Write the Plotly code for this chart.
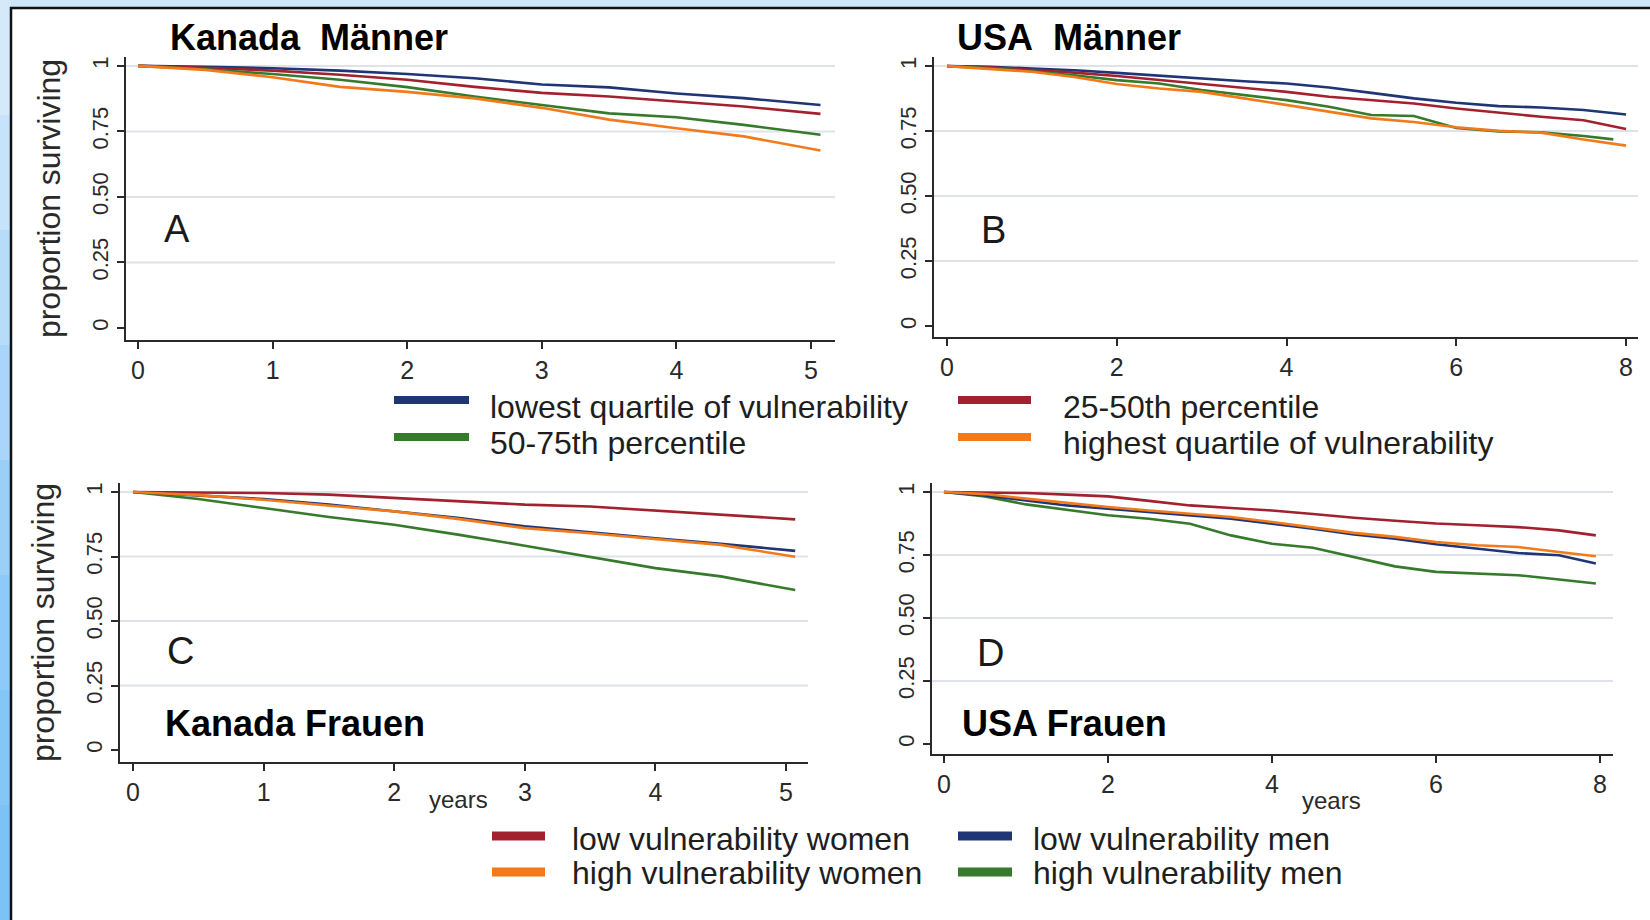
import plotly.graph_objects as go

W, H = 1650, 920

# ---------------- data ----------------
# Panel A: Kanada Maenner (quartiles of vulnerability)
years_A = [0, 0.5, 1, 1.5, 2, 2.5, 3, 3.5, 4, 4.5, 5.07]
A_q1 = [1.0, 0.997, 0.991, 0.982, 0.969, 0.953, 0.929, 0.918, 0.895, 0.877, 0.851]
A_q2 = [1.0, 0.993, 0.982, 0.966, 0.947, 0.920, 0.897, 0.883, 0.864, 0.845, 0.817]
A_q3 = [1.0, 0.987, 0.969, 0.947, 0.919, 0.883, 0.851, 0.819, 0.804, 0.775, 0.737]
A_q4 = [1.0, 0.985, 0.957, 0.920, 0.901, 0.876, 0.840, 0.795, 0.762, 0.731, 0.677]

# Panel B: USA Maenner
years_B = [0, 0.5, 1, 1.5, 2, 2.5, 3, 3.5, 4, 4.5, 5, 5.5, 6, 6.5, 7, 7.5, 8.0]
years_B_q3 = [0, 0.5, 1, 1.5, 2, 2.5, 3, 3.5, 4, 4.5, 5, 5.5, 6, 6.5, 7, 7.5, 7.85]
B_q1 = [1.0, 0.997, 0.991, 0.984, 0.974, 0.963, 0.953, 0.942, 0.933, 0.918, 0.897, 0.876, 0.859, 0.846, 0.841, 0.831, 0.814]
B_q2 = [1.0, 0.995, 0.985, 0.975, 0.962, 0.947, 0.931, 0.918, 0.901, 0.882, 0.869, 0.856, 0.837, 0.821, 0.805, 0.792, 0.758]
B_q3 = [1.0, 0.992, 0.980, 0.965, 0.946, 0.933, 0.908, 0.888, 0.869, 0.844, 0.812, 0.808, 0.762, 0.749, 0.745, 0.731, 0.718]
B_q4 = [1.0, 0.990, 0.978, 0.958, 0.931, 0.914, 0.901, 0.876, 0.850, 0.824, 0.799, 0.785, 0.765, 0.751, 0.744, 0.718, 0.694]

# Panel C: Kanada Frauen (women vs men)
years_C = [0, 0.5, 1, 1.5, 2, 2.5, 3, 3.5, 4, 4.5, 5.07]
C_low_w = [1.0, 0.999, 0.996, 0.990, 0.977, 0.964, 0.951, 0.944, 0.929, 0.912, 0.894]
C_high_w = [1.0, 0.988, 0.970, 0.948, 0.925, 0.895, 0.860, 0.840, 0.818, 0.795, 0.749]
C_low_m = [1.0, 0.986, 0.973, 0.951, 0.925, 0.899, 0.867, 0.843, 0.821, 0.799, 0.772]
C_high_m = [1.0, 0.973, 0.938, 0.903, 0.873, 0.834, 0.792, 0.748, 0.705, 0.673, 0.620]

# Panel D: USA Frauen
years_D = [0, 0.5, 1, 1.5, 2, 2.5, 3, 3.5, 4, 4.5, 5, 5.5, 6, 6.5, 7, 7.5, 7.95]
D_low_w = [1.0, 0.999, 0.996, 0.990, 0.983, 0.965, 0.947, 0.937, 0.927, 0.913, 0.898, 0.886, 0.875, 0.868, 0.861, 0.848, 0.828]
D_high_w = [1.0, 0.992, 0.974, 0.956, 0.941, 0.927, 0.914, 0.901, 0.881, 0.861, 0.838, 0.822, 0.802, 0.789, 0.782, 0.762, 0.745]
D_low_m = [1.0, 0.987, 0.967, 0.947, 0.934, 0.921, 0.908, 0.894, 0.874, 0.855, 0.832, 0.815, 0.793, 0.775, 0.758, 0.749, 0.716]
D_high_m = [1.0, 0.983, 0.951, 0.930, 0.908, 0.894, 0.874, 0.828, 0.795, 0.779, 0.742, 0.705, 0.683, 0.676, 0.670, 0.653, 0.637]

quartile_names = ["lowest quartile of vulnerability", "25-50th percentile",
                  "50-75th percentile", "highest quartile of vulnerability"]
group_names = ["low vulnerability women", "high vulnerability women",
               "low vulnerability men", "high vulnerability men"]
panel_titles = ["Kanada\u00a0\u00a0Männer", "USA\u00a0\u00a0Männer", "Kanada Frauen", "USA Frauen"]
panel_letters = ["A", "B", "C", "D"]
y_tickvals = [0, 0.25, 0.5, 0.75, 1]
y_ticktext = ["0", "0.25", "0.50", "0.75", "1"]
grid_vals = [0.25, 0.5, 0.75, 1]
x_ticks_5 = [0, 1, 2, 3, 4, 5]
x_ticks_8 = [0, 2, 4, 6, 8]
y_title = "proportion surviving"
x_title = "years"

# ---------------- styles ----------------
NAVY = "#1f3576"
MAROON = "#a1222e"
GREEN = "#367a2b"
ORANGE = "#f27a1a"
AXC = "#2a2a2a"
GRIDC = "#dfe2ea"
FONT = "Liberation Sans, Arial, sans-serif"


def fx(px):
    return px / W


def fy(py):
    return 1 - py / H


fig = go.Figure()

# panel geometry in pixels: (x left, x right), (y top, y bottom), ranges
panels = [
    dict(n="", xd=(126, 835), yd=(57, 340), xr=(-0.089, 5.178), yr=(-0.046, 1.034), xt=x_ticks_5),
    dict(n="2", xd=(934, 1638), yd=(57, 337), xr=(-0.153, 8.141), yr=(-0.042, 1.035), xt=x_ticks_8),
    dict(n="3", xd=(120, 808), yd=(483, 762), xr=(-0.0995, 5.168), yr=(-0.0465, 1.035), xt=x_ticks_5),
    dict(n="4", xd=(932, 1613), yd=(483, 754), xr=(-0.146, 8.159), yr=(-0.040, 1.036), xt=x_ticks_8),
]

series = [
    [(years_A, A_q1, NAVY), (years_A, A_q2, MAROON), (years_A, A_q3, GREEN), (years_A, A_q4, ORANGE)],
    [(years_B, B_q1, NAVY), (years_B, B_q2, MAROON), (years_B_q3, B_q3, GREEN), (years_B, B_q4, ORANGE)],
    [(years_C, C_high_m, GREEN), (years_C, C_low_w, MAROON), (years_C, C_low_m, NAVY), (years_C, C_high_w, ORANGE)],
    [(years_D, D_high_m, GREEN), (years_D, D_low_w, MAROON), (years_D, D_low_m, NAVY), (years_D, D_high_w, ORANGE)],
]

layout_axes = {}
shapes = []
annotations = []

# background: white sheet with black edge on light-blue page
strip_cols = ["#d4eafb", "#c6e3fb", "#b6dcfa", "#a8d5f9", "#9acff8", "#8ecaf7", "#84c6f6", "#7cc2f5"]
for i, c in enumerate(strip_cols):
    shapes.append(dict(type="rect", xref="paper", yref="paper", x0=0, x1=fx(11),
                       y0=1 - (i + 1) / len(strip_cols), y1=1 - i / len(strip_cols) if i else 1.0,
                       fillcolor=c, line=dict(width=0), layer="below"))
shapes.append(dict(type="rect", xref="paper", yref="paper", x0=fx(11), x1=1.05, y0=-0.05, y1=fy(8),
                   fillcolor="white", line=dict(color="#111111", width=2.5), layer="below"))

for i, p in enumerate(panels):
    n = p["n"]
    xa, ya = "xaxis" + n, "yaxis" + n
    layout_axes[xa] = dict(
        domain=[fx(p["xd"][0]), fx(p["xd"][1])], range=list(p["xr"]), anchor="y" + n,
        tickvals=p["xt"], ticks="outside", ticklen=7, tickwidth=2, tickcolor=AXC,
        showline=True, linecolor=AXC, linewidth=2, showgrid=False, zeroline=False,
        tickfont=dict(family=FONT, size=25, color="#2a2a2a"),
    )
    layout_axes[ya] = dict(
        domain=[fy(p["yd"][1]), fy(p["yd"][0])], range=list(p["yr"]), anchor="x" + n,
        tickvals=y_tickvals, ticktext=y_ticktext, tickangle=-90,
        ticks="outside", ticklen=7, tickwidth=2, tickcolor=AXC,
        showline=True, linecolor=AXC, linewidth=2, showgrid=False, zeroline=False,
        tickfont=dict(family=FONT, size=22, color="#2a2a2a"),
    )
    if i in (0, 2):
        layout_axes[ya]["title"] = dict(text=y_title, standoff=18,
                                        font=dict(family=FONT, size=32, color="#2a2a2a"))
    for g in grid_vals:
        shapes.append(dict(type="line", xref="x" + n + " domain", yref="y" + n,
                           x0=0, x1=1, y0=g, y1=g, line=dict(color=GRIDC, width=2), layer="below"))
    for (xs, ys, col) in series[i]:
        fig.add_trace(go.Scatter(x=xs, y=ys, mode="lines", xaxis="x" + n, yaxis="y" + n,
                                 line=dict(color=col, width=2.6), showlegend=False,
                                 hoverinfo="x+y"))

# panel titles and letters
title_pos = [(168, 37), (955, 37), (163, 723), (960, 723)]
letter_pos = [(177, 229), (993, 230), (180, 651), (990, 653)]
for t, (px, py) in zip(panel_titles, title_pos):
    annotations.append(dict(text="<b>" + t + "</b>", xref="paper", yref="paper", x=fx(px), y=fy(py),
                            xanchor="left", yanchor="middle", showarrow=False,
                            font=dict(family=FONT, size=36, color="black")))
for t, (px, py) in zip(panel_letters, letter_pos):
    annotations.append(dict(text=t, xref="paper", yref="paper", x=fx(px), y=fy(py),
                            xanchor="center", yanchor="middle", showarrow=False,
                            font=dict(family=FONT, size=38, color="#1a1a1a")))
# "years" labels
for (px, py) in [(458, 799), (1331, 800)]:
    annotations.append(dict(text=x_title, xref="paper", yref="paper", x=fx(px), y=fy(py),
                            xanchor="center", yanchor="middle", showarrow=False,
                            font=dict(family=FONT, size=24, color="#2a2a2a")))

# legends (swatch + label)
legend1 = [(quartile_names[0], NAVY, 394, 469, 400, 488, 407),
           (quartile_names[1], MAROON, 958, 1031, 400, 1061, 407),
           (quartile_names[2], GREEN, 394, 469, 437, 488, 443),
           (quartile_names[3], ORANGE, 958, 1031, 437, 1061, 443)]
legend2 = [(group_names[0], MAROON, 492, 545, 836, 570, 839),
           (group_names[2], NAVY, 958, 1012, 836, 1031, 839),
           (group_names[1], ORANGE, 492, 545, 872, 570, 873),
           (group_names[3], GREEN, 958, 1012, 872, 1031, 873)]
for items, th in ((legend1, 8), (legend2, 9)):
    for (name, col, sx0, sx1, sy, tx, ty) in items:
        shapes.append(dict(type="rect", xref="paper", yref="paper", x0=fx(sx0), x1=fx(sx1),
                           y0=fy(sy + th / 2), y1=fy(sy - th / 2), fillcolor=col, line=dict(width=0)))
        annotations.append(dict(text=name, xref="paper", yref="paper", x=fx(tx), y=fy(ty),
                                xanchor="left", yanchor="middle", showarrow=False,
                                font=dict(family=FONT, size=32, color="#1e1e1e")))

fig.update_layout(
    width=W, height=H, margin=dict(l=0, r=0, t=0, b=0),
    paper_bgcolor="#cfe6fa", plot_bgcolor="rgba(0,0,0,0)",
    showlegend=False, shapes=shapes, annotations=annotations,
    **layout_axes,
)

fig.write_html("out.html", config={"displayModeBar": False},
               post_script="document.body.style.margin='0';document.body.style.overflow='hidden';")
